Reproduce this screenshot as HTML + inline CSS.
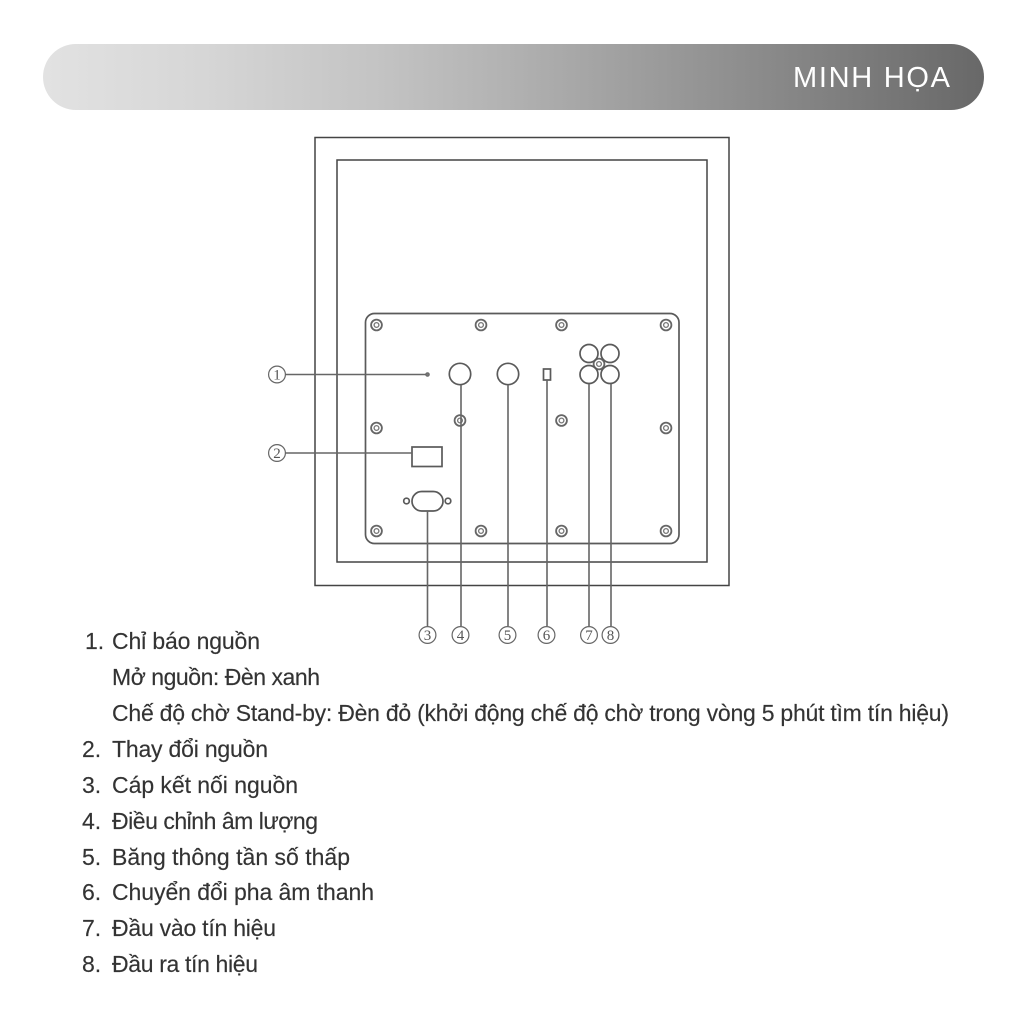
<!DOCTYPE html>
<html>
<head>
<meta charset="utf-8">
<style>
html,body{margin:0;padding:0;background:#fff;width:1024px;height:1024px;overflow:hidden}
svg{display:block}
.t{font-family:"Liberation Sans",sans-serif;font-size:23px;fill:#333;stroke:#333;stroke-width:0.15}
.c{font-family:"Liberation Serif",serif;font-size:15px;fill:#555;text-anchor:middle}
.l{stroke:#666;stroke-width:1.6;fill:none}
.o{stroke:#5a5a5a;stroke-width:1.7;fill:none}
</style>
</head>
<body>
<svg width="1024" height="1024" viewBox="0 0 1024 1024" xmlns="http://www.w3.org/2000/svg">
<defs>
<linearGradient id="g" x1="0" x2="1" y1="0" y2="0">
<stop offset="0" stop-color="#e2e2e2"/>
<stop offset="0.17" stop-color="#d6d6d6"/>
<stop offset="0.36" stop-color="#c3c3c3"/>
<stop offset="0.485" stop-color="#b3b3b3"/>
<stop offset="0.804" stop-color="#858585"/>
<stop offset="1" stop-color="#686868"/>
</linearGradient>
<g id="s">
<circle r="5.4" fill="none" stroke="#666" stroke-width="1.8"/>
<circle r="2.4" fill="none" stroke="#777" stroke-width="1.3"/>
</g>
</defs>
<rect x="43" y="44" width="941" height="66" rx="33" fill="url(#g)"/>
<text x="793" y="87" textLength="157" style="font-family:'Liberation Sans',sans-serif;font-size:29px;fill:#fff">MINH HỌA</text>

<rect x="315" y="137.5" width="414" height="448" fill="none" stroke="#444" stroke-width="1.5"/>
<rect x="337" y="160" width="370" height="402" fill="none" stroke="#444" stroke-width="1.5"/>
<rect x="365.5" y="313.5" width="313.5" height="230" rx="9" class="o"/>

<use href="#s" x="376.5" y="325"/><use href="#s" x="481" y="325"/><use href="#s" x="561.5" y="325"/><use href="#s" x="666" y="325"/>
<use href="#s" x="376.5" y="428"/><use href="#s" x="666" y="428"/>
<use href="#s" x="460" y="420.5"/><use href="#s" x="561.5" y="420.5"/>
<use href="#s" x="376.5" y="531"/><use href="#s" x="481" y="531"/><use href="#s" x="561.5" y="531"/><use href="#s" x="666" y="531"/>
<use href="#s" x="599" y="364"/>

<circle cx="460" cy="374" r="10.7" class="o"/>
<circle cx="508" cy="374" r="10.7" class="o"/>
<rect x="543.5" y="369" width="7" height="11" class="o"/>
<circle cx="589" cy="353.5" r="9" class="o"/>
<circle cx="610" cy="353.5" r="9" class="o"/>
<circle cx="589" cy="374.5" r="9" class="o"/>
<circle cx="610" cy="374.5" r="9" class="o"/>
<circle cx="427.5" cy="374.5" r="1.8" fill="#777" stroke="#666"/>
<rect x="412" y="447" width="30" height="19.5" class="o"/>
<rect x="412" y="491.5" width="31" height="19.5" rx="9.7" class="o"/>
<circle cx="406.5" cy="501" r="2.8" class="o"/>
<circle cx="448" cy="501" r="2.8" class="o"/>

<path class="l" d="M285 374.5H426M285 453H412M427.5 511V626M461 385V626M508 385V626M547 380V626M589 384V626M611 384V626"/>

<g fill="none" stroke="#666" stroke-width="1.2">
<circle cx="277" cy="374.5" r="8.4"/><circle cx="277" cy="453" r="8.4"/>
<circle cx="427.5" cy="635" r="8.4"/><circle cx="460.5" cy="635" r="8.4"/><circle cx="507.5" cy="635" r="8.4"/><circle cx="546.5" cy="635" r="8.4"/><circle cx="589" cy="635" r="8.4"/><circle cx="610.5" cy="635" r="8.4"/>
</g>
<text class="c" x="277" y="379.7">1</text>
<text class="c" x="277" y="458.2">2</text>
<text class="c" x="427.5" y="640.2">3</text>
<text class="c" x="460.5" y="640.2">4</text>
<text class="c" x="507.5" y="640.2">5</text>
<text class="c" x="546.5" y="640.2">6</text>
<text class="c" x="589" y="640.2">7</text>
<text class="c" x="610.5" y="640.2">8</text>

<text class="t" x="85" y="649">1.</text><text class="t" x="112" y="649" textLength="148">Chỉ báo nguồn</text>
<text class="t" x="112" y="685" textLength="208">Mở nguồn: Đèn xanh</text>
<text class="t" x="112" y="721" textLength="837">Chế độ chờ Stand-by: Đèn đỏ (khởi động chế độ chờ trong vòng 5 phút tìm tín hiệu)</text>
<text class="t" x="82" y="757">2.</text><text class="t" x="112" y="757" textLength="156">Thay đổi nguồn</text>
<text class="t" x="82" y="793">3.</text><text class="t" x="112" y="793" textLength="186">Cáp kết nối nguồn</text>
<text class="t" x="82" y="829">4.</text><text class="t" x="112" y="829" textLength="206">Điều chỉnh âm lượng</text>
<text class="t" x="82" y="865">5.</text><text class="t" x="112" y="865" textLength="238">Băng thông tần số thấp</text>
<text class="t" x="82" y="900">6.</text><text class="t" x="112" y="900" textLength="262">Chuyển đổi pha âm thanh</text>
<text class="t" x="82" y="936">7.</text><text class="t" x="112" y="936" textLength="164">Đầu vào tín hiệu</text>
<text class="t" x="82" y="972">8.</text><text class="t" x="112" y="972" textLength="146">Đầu ra tín hiệu</text>
</svg>
</body>
</html>
